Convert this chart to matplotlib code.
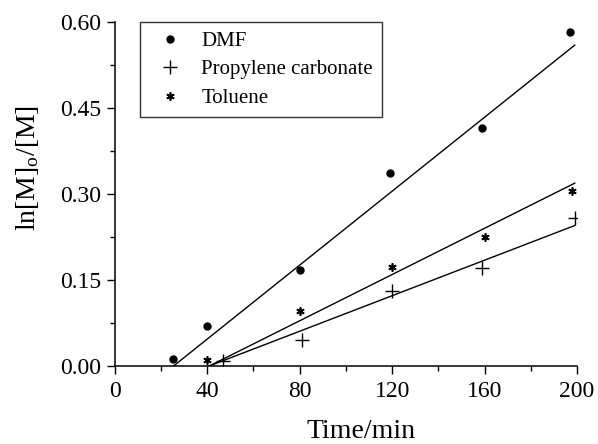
import matplotlib
matplotlib.use("Agg")
import matplotlib.pyplot as plt
from matplotlib.ticker import MultipleLocator

plt.rcParams['font.family'] = ['Liberation Serif', 'DejaVu Serif']
plt.rcParams['mathtext.fontset'] = 'custom'
plt.rcParams['mathtext.rm'] = 'Liberation Serif'
plt.rcParams['mathtext.it'] = 'Liberation Serif:italic'

# data
dmf_t = [25, 40, 80, 119, 159, 197]
dmf_y = [0.012, 0.069, 0.168, 0.337, 0.416, 0.583]
pc_t = [47, 81, 120, 159, 199]
pc_y = [0.008, 0.046, 0.130, 0.171, 0.259]
tol_t = [40, 80, 120, 160, 198]
tol_y = [0.010, 0.096, 0.173, 0.225, 0.306]

# fitted lines (start, end)
dmf_fit_t = [25.5, 199]
dmf_fit_y = [0.0, 0.560]
pc_fit_t = [41, 199]
pc_fit_y = [0.0, 0.245]
tol_fit_t = [41, 199]
tol_fit_y = [0.0, 0.319]

xticks = [0, 40, 80, 120, 160, 200]
yticks = [0.00, 0.15, 0.30, 0.45, 0.60]
ytick_labels = ['0.00', '0.15', '0.30', '0.45', '0.60']

fig = plt.figure(figsize=(5.98, 4.44), dpi=100)
ax = fig.add_axes([0.192, 0.176, 0.773, 0.774])

ax.plot(dmf_t, dmf_y, 'o', color='black', markersize=5, linestyle='none', label='DMF')
ax.plot(pc_t, pc_y, '+', color='black', markersize=10, markeredgewidth=1.0, linestyle='none',
        label='Propylene carbonate')
ax.plot(tol_t, tol_y, marker=(6, 2, 0), color='black', markersize=6, markeredgewidth=1.2,
        linestyle='none', label='Toluene')

ax.plot(dmf_fit_t, dmf_fit_y, '-', color='black', linewidth=1.0)
ax.plot(pc_fit_t, pc_fit_y, '-', color='black', linewidth=1.0)
ax.plot(tol_fit_t, tol_fit_y, '-', color='black', linewidth=1.0)

ax.set_xlim(0, 200)
ax.set_ylim(0, 0.60)
ax.set_xticks(xticks)
ax.set_yticks(yticks)
ax.set_yticklabels(ytick_labels)
ax.xaxis.set_minor_locator(MultipleLocator(20))
ax.yaxis.set_minor_locator(MultipleLocator(0.075))
ax.tick_params(which='major', direction='out', length=6, width=1, labelsize=17, colors='black')
ax.tick_params(axis='x', which='major', pad=5)
ax.tick_params(which='minor', direction='out', length=3.5, width=1)
ax.spines['top'].set_visible(False)
ax.spines['right'].set_visible(False)
ax.spines['left'].set_linewidth(1.1)
ax.spines['bottom'].set_linewidth(1.1)

ax.set_xlabel('Time/min', fontsize=20)
ax.set_ylabel(r'ln[M]$_{\mathrm{o}}$/[M]', fontsize=20)
ax.xaxis.set_label_coords(0.532, -0.155)
ax.yaxis.set_label_coords(-0.16, 0.575)

leg = ax.legend(loc='upper left', bbox_to_anchor=(0.054, 1.0), fontsize=15, frameon=True,
                fancybox=False, edgecolor='black', handlelength=2.0, handletextpad=0.5,
                borderpad=0.45, labelspacing=0.42, borderaxespad=0)
leg.get_frame().set_linewidth(1.0)

fig.savefig('out.png', dpi=100)
